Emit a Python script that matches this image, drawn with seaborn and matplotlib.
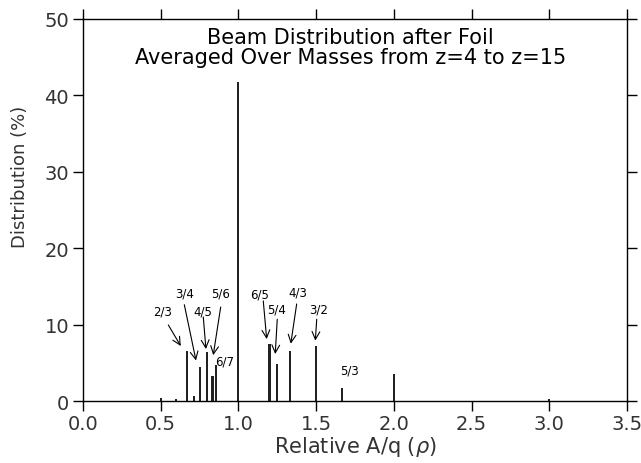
import matplotlib
matplotlib.use("Agg")
import matplotlib.pyplot as plt
import seaborn as sns
import pandas as pd

# Relative A/q positions and their share of the beam (%)
rho = [0.5, 0.6, 2/3, 5/7, 0.75, 0.8, 5/6, 6/7, 1.0, 1.2, 1.25, 4/3, 1.5, 5/3, 2.0, 3.0]
dist = [0.4, 0.2, 6.6, 0.7, 4.4, 6.4, 3.3, 4.7, 41.8, 7.4, 4.8, 6.6, 7.2, 1.7, 3.5, 0.2]

# charge-state labels: text, label position, arrow start, arrow tip (None = no arrow)
labels = ["2/3", "3/4", "4/5", "5/6", "6/7", "6/5", "5/4", "4/3", "3/2", "5/3"]
label_xy = [(0.515, 11.8), (0.656, 14.2), (0.768, 11.8), (0.882, 14.2), (0.914, 5.3),
            (1.139, 14.0), (1.246, 12.0), (1.385, 14.3), (1.514, 12.0), (1.714, 4.0)]
arrow_from = [(0.549, 9.95), (0.652, 12.6), (0.774, 11.0), (0.886, 12.3), None,
              (1.160, 13.1), (1.250, 10.7), (1.375, 12.7), (1.504, 10.7), None]
arrow_to = [(0.629, 7.2), (0.727, 5.3), (0.791, 6.8), (0.838, 6.0), None,
            (1.182, 8.1), (1.237, 6.15), (1.337, 7.5), (1.495, 7.9), None]

df = pd.DataFrame({"rho": rho, "dist": dist})

sns.set_style("ticks")
plt.rcParams["font.family"] = ["DejaVu Sans"]
plt.rcParams["text.color"] = "black"
plt.rcParams["axes.labelcolor"] = "black"

fig = plt.figure(figsize=(6.41, 4.64), dpi=100)
ax = fig.add_axes([0.1295, 0.1336, 0.8485, 0.8234])

sns.barplot(data=df, x="rho", y="dist", native_scale=True, width=0.55,
            color="#222222", linewidth=0, errorbar=None, ax=ax)

ax.set_xlim(0, 3.5)
ax.set_ylim(0, 50)
ax.set_xticks([0.0, 0.5, 1.0, 1.5, 2.0, 2.5, 3.0, 3.5])
ax.set_xticklabels(["0.0", "0.5", "1.0", "1.5", "2.0", "2.5", "3.0", "3.5"])
ax.set_yticks([0, 10, 20, 30, 40, 50])

for s in ax.spines.values():
    s.set_visible(True)
    s.set_linewidth(1.0)
    s.set_color("black")
ax.tick_params(axis="both", which="both", direction="out", length=7, width=1,
               top=True, right=True, colors="black", labelcolor="#333333")
ax.tick_params(axis="x", labelsize=14, pad=2)
ax.tick_params(axis="y", labelsize=14, pad=3)

ax.set_xlabel(r"Relative A/q ($\rho$)", fontsize=15, labelpad=1, color="#333333")
ax.set_ylabel("Distribution (%)", fontsize=13, color="#333333")
ax.yaxis.set_label_coords(-0.099, 0.589)

ax.text(1.72, 47.6, "Beam Distribution after Foil", ha="center", va="center", fontsize=15)
ax.text(1.72, 45.0, "Averaged Over Masses from z=4 to z=15", ha="center", va="center", fontsize=15)

for lab, pos, a0, a1 in zip(labels, label_xy, arrow_from, arrow_to):
    ax.text(pos[0], pos[1], lab, ha="center", va="center", fontsize=8.5)
    if a0 is not None:
        ax.annotate("", xy=a1, xytext=a0,
                    arrowprops=dict(arrowstyle="->", lw=0.8, color="black",
                                    mutation_scale=14, shrinkA=0, shrinkB=0))

fig.savefig("out.png", dpi=100)
